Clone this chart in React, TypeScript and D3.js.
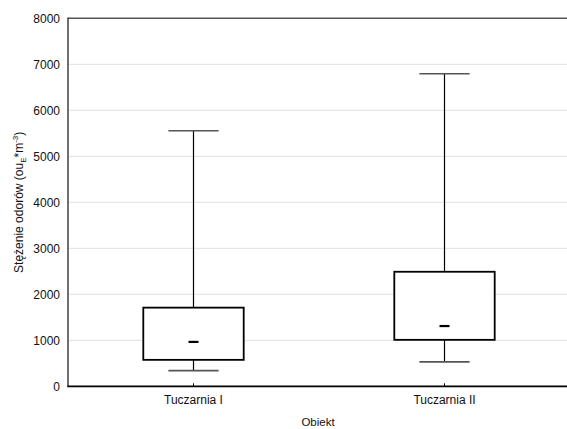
import React from 'react';
import * as d3 from 'd3';

const categories = ['Tuczarnia I', 'Tuczarnia II'];
const whiskerLow = [340, 530];
const q1 = [575, 1010];
const median = [965, 1310];
const q3 = [1710, 2490];
const whiskerHigh = [5555, 6795];
const yTicks = [0, 1000, 2000, 3000, 4000, 5000, 6000, 7000, 8000];

const W = 567;
const H = 429;
const left = 68;
const right = 570;
const top = 18.3;
const bottom = 386.3;
const font = 'Liberation Sans, Arial, sans-serif';

export default function App() {
  const x = d3.scaleBand<string>().domain(categories).range([left, right]).padding(0);
  const y = d3.scaleLinear().domain([0, 8000]).range([bottom, top]);
  const step = x.step();
  const boxW = step * 0.4;
  const capW = step * 0.2;
  const medW = 10;

  return (
    <svg width={W} height={H} style={{ position: 'absolute', left: 0, top: 0, background: '#fff' }}>
      {/* grid lines */}
      {yTicks.filter(t => t > 0 && t < 8000).map(t => (
        <line key={'g' + t} x1={left} x2={W} y1={y(t)} y2={y(t)} stroke="#e0e0e0" strokeWidth={1} />
      ))}
      {/* top border */}
      <line x1={left} x2={W} y1={y(8000)} y2={y(8000)} stroke="#555" strokeWidth={1.6} />
      {/* y axis */}
      <line x1={left} x2={left} y1={y(8000) - 0.8} y2={bottom} stroke="#333" strokeWidth={1.4} />
      {/* x axis */}
      <line x1={left - 0.7} x2={W} y1={bottom} y2={bottom} stroke="#000" strokeWidth={1.8} />
      {/* y tick labels */}
      {yTicks.map(t => (
        <text key={'t' + t} x={60} y={y(t)} dy="0.35em" textAnchor="end" fontFamily={font} fontSize={12} fill="#111">
          {t}
        </text>
      ))}
      {/* x ticks and labels */}
      {categories.map(c => {
        const cx = (x(c) as number) + step / 2;
        return (
          <g key={'x' + c}>
            <line x1={cx} x2={cx} y1={bottom} y2={bottom - 3} stroke="#000" strokeWidth={1} />
            <text x={cx} y={404} textAnchor="middle" fontFamily={font} fontSize={12} fill="#111">{c}</text>
          </g>
        );
      })}
      {/* boxes */}
      {categories.map((c, i) => {
        const cx = (x(c) as number) + step / 2;
        return (
          <g key={'b' + c}>
            <line x1={cx} x2={cx} y1={y(whiskerHigh[i])} y2={y(q3[i])} stroke="#000" strokeWidth={1.2} />
            <line x1={cx} x2={cx} y1={y(q1[i])} y2={y(whiskerLow[i])} stroke="#000" strokeWidth={1.2} />
            <line x1={cx - capW / 2} x2={cx + capW / 2} y1={y(whiskerHigh[i])} y2={y(whiskerHigh[i])} stroke="#555" strokeWidth={1.6} />
            <line x1={cx - capW / 2} x2={cx + capW / 2} y1={y(whiskerLow[i])} y2={y(whiskerLow[i])} stroke="#555" strokeWidth={1.6} />
            <rect x={cx - boxW / 2} y={y(q3[i])} width={boxW} height={y(q1[i]) - y(q3[i])} fill="#fff" stroke="#000" strokeWidth={1.8} />
            <line x1={cx - medW / 2} x2={cx + medW / 2} y1={y(median[i])} y2={y(median[i])} stroke="#000" strokeWidth={2.2} />
          </g>
        );
      })}
      {/* axis titles */}
      <text x={318} y={426} textAnchor="middle" fontFamily={font} fontSize={11.5} fill="#111">Obiekt</text>
      <text transform={`translate(23, ${(top + bottom) / 2}) rotate(-90)`} textAnchor="middle" fontFamily={font} fontSize={12} fill="#111">
        Stężenie odorów (ou<tspan fontSize={8} dy={3}>E</tspan><tspan dy={-3}>*m</tspan><tspan fontSize={8} dy={-5}>-3</tspan><tspan dy={5}>)</tspan>
      </text>
    </svg>
  );
}
